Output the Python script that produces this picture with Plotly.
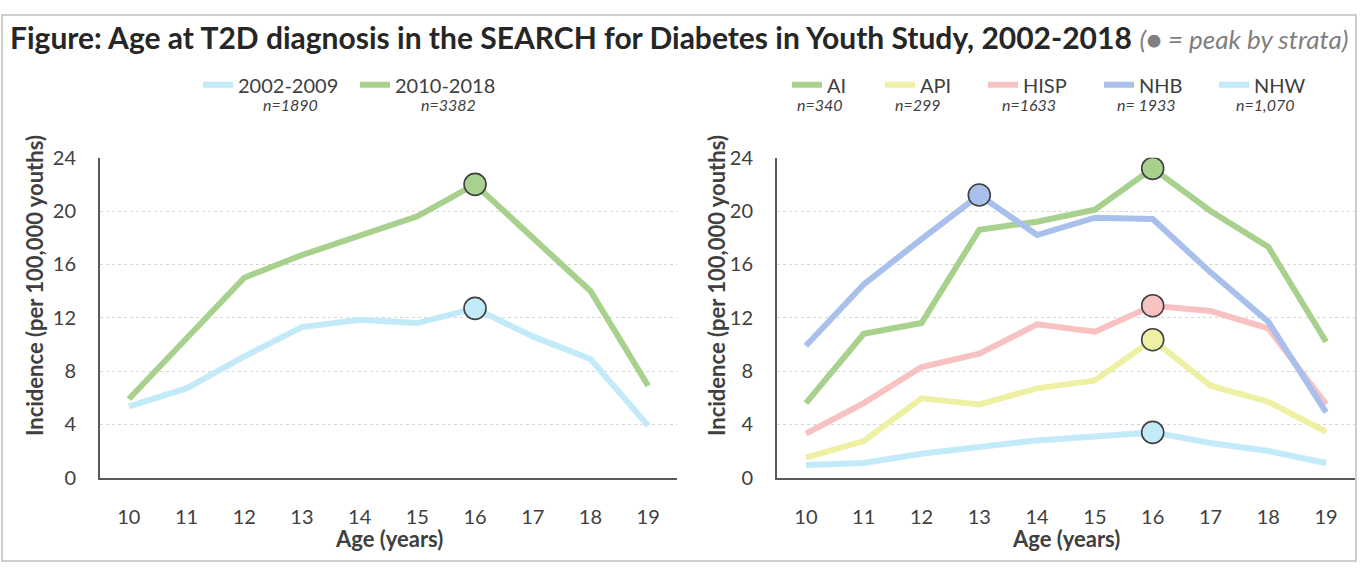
import plotly.graph_objects as go

W, H = 1361, 574

# ---------------- data ----------------
ages = [10, 11, 12, 13, 14, 15, 16, 17, 18, 19]
age_labels = [str(a) for a in ages]
y_ticks = [0, 4, 8, 12, 16, 20, 24]

period_names = ["2002-2009", "2010-2018"]
period_n = ["n=1890", "n=3382"]
inc_2002_2009 = [5.35, 6.7, 9.1, 11.3, 11.85, 11.6, 12.7, 10.6, 8.9, 3.9]
inc_2010_2018 = [5.9, 10.4, 15.0, 16.7, 18.1, 19.6, 22.0, 18.0, 14.0, 6.9]

strata_names = ["AI", "API", "HISP", "NHB", "NHW"]
strata_n = ["n=340", "n=299", "n=1633", "n= 1933", "n=1,070"]
inc_ai = [5.6, 10.8, 11.6, 18.6, 19.2, 20.1, 23.2, 20.0, 17.3, 10.2]
inc_api = [1.5, 2.75, 5.95, 5.5, 6.7, 7.3, 10.35, 6.9, 5.7, 3.45]
inc_hisp = [3.3, 5.6, 8.3, 9.3, 11.5, 10.95, 12.9, 12.5, 11.2, 5.5]
inc_nhb = [9.9, 14.5, 17.9, 21.2, 18.2, 19.5, 19.4, 15.4, 11.7, 4.9]
inc_nhw = [0.95, 1.1, 1.8, 2.25, 2.8, 3.1, 3.4, 2.6, 2.0, 1.1]

# ---------------- styles ----------------
C_LBLUE = "#C2EAF9"
C_GREEN = "#A9D18E"
C_YELLOW = "#EEF1A4"
C_PINK = "#F8C2C2"
C_BLUE = "#A8C0EB"

FONT = "Lato"
TXT = "#404040"


def px(x):
    return x / W


def py(y):
    return 1 - y / H


left_series = [(period_names[0], inc_2002_2009, C_LBLUE),
               (period_names[1], inc_2010_2018, C_GREEN)]
right_series = [(strata_names[0], inc_ai, C_GREEN),
                (strata_names[1], inc_api, C_YELLOW),
                (strata_names[2], inc_hisp, C_PINK),
                (strata_names[3], inc_nhb, C_BLUE),
                (strata_names[4], inc_nhw, C_LBLUE)]

fig = go.Figure()

legend_ids = []
li = 1
for panel, series in (("1", left_series), ("2", right_series)):
    xa = "x" if panel == "1" else "x2"
    ya = "y" if panel == "1" else "y2"
    for name, vals, col in series:
        lid = "legend" if li == 1 else f"legend{li}"
        legend_ids.append(lid)
        li += 1
        fig.add_trace(go.Scatter(
            x=ages, y=vals, mode="lines", name=name,
            line=dict(color=col, width=6),
            xaxis=xa, yaxis=ya, legend=lid, hoverinfo="x+y+name"))
    for name, vals, col in series:
        k = max(range(len(vals)), key=lambda i: vals[i])
        fig.add_trace(go.Scatter(
            x=[ages[k]], y=[vals[k]], mode="markers", showlegend=False,
            marker=dict(size=22, color=col, line=dict(color="#404040", width=1.6)),
            xaxis=xa, yaxis=ya, hoverinfo="x+y"))

# ---------------- axes ----------------
ydom = [py(485), py(151)]
common_x = dict(range=[9.5, 19.5], tickvals=ages, ticktext=age_labels,
                showgrid=False, zeroline=False, showline=True,
                linecolor="#595959", linewidth=2, ticks="",
                ticklabelstandoff=20,
                tickfont=dict(family=FONT, size=20, color=TXT))
common_y = dict(range=[0, 24], tickvals=y_ticks, showgrid=True,
                gridcolor="#D6D6D6", griddash="dot", gridwidth=1,
                zeroline=False, showline=True, linecolor="#595959",
                linewidth=2, ticks="", ticklabelstandoff=18,
                tickfont=dict(family=FONT, size=20, color=TXT))

fig.update_layout(
    xaxis=dict(domain=[px(100), px(677)], anchor="y", **common_x),
    yaxis=dict(domain=ydom, anchor="x", **common_y),
    xaxis2=dict(domain=[px(777), px(1355)], anchor="y2", **common_x),
    yaxis2=dict(domain=ydom, anchor="x2", **common_y),
)

# ---------------- legends ----------------
legend_x = [198, 355, 787, 880, 983, 1099, 1214]
for lid, lx in zip(legend_ids, legend_x):
    fig.layout[lid] = dict(
        x=px(lx), y=py(75), xanchor="left", yanchor="middle",
        orientation="h", bgcolor="rgba(0,0,0,0)", borderwidth=0,
        font=dict(family=FONT, size=20, color=TXT), itemwidth=30)

# ---------------- annotations ----------------
ann = []
n_centers = [290, 448, 820, 918, 1029, 1146, 1265]
for txt, cx in zip(period_n + strata_n, n_centers):
    ann.append(dict(x=px(cx), y=py(95), xref="paper", yref="paper",
                    text=f"<i>{txt}</i>", showarrow=False,
                    font=dict(family=FONT, size=16, color=TXT),
                    xanchor="center", yanchor="middle"))

for cx in (388.5, 1066):
    ann.append(dict(x=px(cx), y=py(548), xref="paper", yref="paper",
                    text="<b>Age (years)</b>", showarrow=False,
                    font=dict(family=FONT, size=22, color=TXT),
                    xanchor="center", yanchor="middle"))
for cx in (34, 716):
    ann.append(dict(x=px(cx), y=py(285), xref="paper", yref="paper",
                    text="<b>Incidence (per 100,000 youths)</b>",
                    showarrow=False, textangle=-90,
                    font=dict(family=FONT, size=22, color=TXT),
                    xanchor="center", yanchor="middle"))

ann.append(dict(
    x=px(8), y=py(25), xref="paper", yref="paper", xanchor="left",
    yanchor="middle", showarrow=False,
    text=("<b>Figure: Age at T2D diagnosis in the SEARCH for Diabetes in Youth Study, 2002-2018</b> "
          "<i><span style='font-size:26px;color:#7F7F7F'>(● = peak by strata)</span></i>"),
    font=dict(family=FONT, size=30, color="#262626")))

fig.update_layout(
    annotations=ann,
    width=W, height=H, autosize=False,
    margin=dict(l=0, r=0, t=0, b=0, pad=0),
    paper_bgcolor="white", plot_bgcolor="white",
    font=dict(family=FONT, color=TXT),
    shapes=[dict(type="rect", xref="paper", yref="paper",
                 x0=px(2), x1=px(1356), y0=py(572), y1=py(2),
                 line=dict(color="#BFBFBF", width=1.5), layer="below")],
)

fig.write_html("out.html", config={"displayModeBar": False},
               post_script="document.body.style.margin='0';")
